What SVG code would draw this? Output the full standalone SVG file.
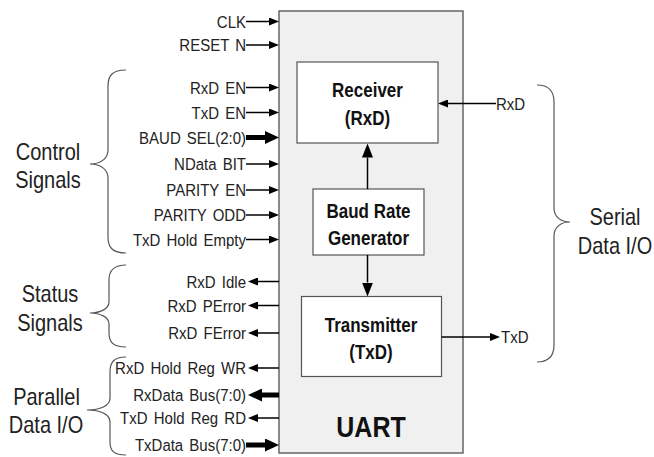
<svg xmlns="http://www.w3.org/2000/svg" width="654" height="457" viewBox="0 0 654 457">
<style>
.sig{font-family:"Liberation Sans",Arial,sans-serif;font-size:15px;fill:#222;text-anchor:end;word-spacing:2px}
.sigr{font-family:"Liberation Sans",Arial,sans-serif;font-size:15px;fill:#222;text-anchor:start}
.grp{font-family:"Liberation Sans",Arial,sans-serif;font-size:20px;fill:#222;text-anchor:middle}
.blk{font-family:"Liberation Sans",Arial,sans-serif;font-size:17px;font-weight:bold;fill:#111;text-anchor:middle}
.uart{font-family:"Liberation Sans",Arial,sans-serif;font-size:25px;font-weight:bold;fill:#111;text-anchor:middle}
.w{stroke:#000;stroke-width:1.5;fill:none}
.bus{stroke:#000;stroke-width:5;fill:none}
.brace{stroke:#555;stroke-width:1.2;fill:none}
.outer{fill:#f0f0f0;stroke:#666;stroke-width:1.5}
.inner{fill:#fff;stroke:#555;stroke-width:1.2}
.in{marker-end:url(#arr)}
.bin{marker-end:url(#busArr)}
.vin{marker-end:url(#bigArr)}
</style>
<defs>
<marker id="arr" markerUnits="userSpaceOnUse" markerWidth="10" markerHeight="8" refX="0" refY="4" orient="auto"><path d="M0,0 L10,4 L0,8 z" fill="#000"/></marker>
<marker id="busArr" markerUnits="userSpaceOnUse" markerWidth="14" markerHeight="13" refX="0" refY="6.5" orient="auto"><path d="M0,0 L14,6.5 L0,13 z" fill="#000"/></marker>
<marker id="bigArr" markerUnits="userSpaceOnUse" markerWidth="14" markerHeight="11" refX="0" refY="5.5" orient="auto"><path d="M0,0 L14,5.5 L0,11 z" fill="#000"/></marker>
</defs>

<g id="uart">
<rect class="outer" x="279" y="11" width="184" height="442"/>
<text class="uart" transform="translate(371,436.5) scale(1,1.2)">UART</text>
</g>
<g id="receiver">
<rect class="inner" x="297" y="62" width="141" height="81"/>
<text class="blk" transform="translate(367.5,97) scale(1,1.15)">Receiver</text>
<text class="blk" transform="translate(367.5,125) scale(1,1.15)">(RxD)</text>
</g>
<g id="baud">
<rect class="inner" x="313" y="189" width="111" height="66"/>
<text class="blk" transform="translate(368.5,218) scale(1,1.15)">Baud Rate</text>
<text class="blk" transform="translate(368.5,245) scale(1,1.15)">Generator</text>
</g>
<g id="transmitter">
<rect class="inner" x="301.5" y="296.5" width="140" height="80"/>
<text class="blk" transform="translate(371,331.5) scale(1,1.15)">Transmitter</text>
<text class="blk" transform="translate(371,359) scale(1,1.15)">(TxD)</text>
</g>

<g id="signal-labels">
<text class="sig" transform="translate(246,27.5) scale(1,1.12)">CLK</text>
<text class="sig" transform="translate(246,51) scale(1,1.12)">RESET N</text>
<text class="sig" transform="translate(246,93.5) scale(1,1.12)">RxD EN</text>
<text class="sig" transform="translate(246,118.5) scale(1,1.12)">TxD EN</text>
<text class="sig" transform="translate(246,143.5) scale(1,1.12)">BAUD SEL(2:0)</text>
<text class="sig" transform="translate(246,170) scale(1,1.12)">NData BIT</text>
<text class="sig" transform="translate(246,196) scale(1,1.12)">PARITY EN</text>
<text class="sig" transform="translate(246,221) scale(1,1.12)">PARITY ODD</text>
<text class="sig" transform="translate(246,245.5) scale(1,1.12)">TxD Hold Empty</text>
<text class="sig" transform="translate(246,287.5) scale(1,1.12)">RxD Idle</text>
<text class="sig" transform="translate(246,311.5) scale(1,1.12)">RxD PError</text>
<text class="sig" transform="translate(246,339) scale(1,1.12)">RxD FError</text>
<text class="sig" transform="translate(246,374) scale(1,1.12)">RxD Hold Reg WR</text>
<text class="sig" transform="translate(246,401) scale(1,1.12)">RxData Bus(7:0)</text>
<text class="sig" transform="translate(246,424) scale(1,1.12)">TxD Hold Reg RD</text>
<text class="sig" transform="translate(246,451) scale(1,1.12)">TxData Bus(7:0)</text>
<text class="sigr" transform="translate(496,110) scale(1,1.12)">RxD</text>
<text class="sigr" transform="translate(501,343) scale(1,1.12)">TxD</text>
</g>

<g id="group-labels">
<text class="grp" transform="translate(48,160) scale(1,1.17)">Control</text>
<text class="grp" transform="translate(48,188) scale(1,1.17)">Signals</text>
<text class="grp" transform="translate(50,301.5) scale(1,1.17)">Status</text>
<text class="grp" transform="translate(50,331) scale(1,1.17)">Signals</text>
<text class="grp" transform="translate(46.5,405) scale(1,1.17)">Parallel</text>
<text class="grp" transform="translate(46,433) scale(1,1.17)">Data I/O</text>
<text class="grp" transform="translate(615,225) scale(1,1.17)">Serial</text>
<text class="grp" transform="translate(615,254) scale(1,1.17)">Data I/O</text>
</g>

<g id="braces">
<path class="brace" d="M126,70 C112,70 108,76 108,86 L108,150 C108,159 100,164 90,164 C100,164 108,169 108,178 L108,237 C108,247 112,253 126,253"/>
<path class="brace" d="M126,265 C113,265 109,271 109,280 L109,302 C109,309 100,313 90,313 C100,313 109,317 109,324 L109,333 C109,342 113,347 126,347"/>
<path class="brace" d="M126,357 C114,357 110,362 110,372 L110,398 C110,406 100,410 87,410 C100,410 110,414 110,422 L110,442 C110,451 114,455 126,455"/>
<path class="brace" d="M537,85 C550,85 554,92 554,102 L554,208 C554,217 561,222 570,222 C561,222 554,227 554,236 L554,345 C554,355 550,362 537,362"/>
</g>

<g id="connectors">
<line class="w in" x1="246" y1="21.5" x2="269" y2="21.5"/>
<line class="w in" x1="246" y1="45" x2="269" y2="45"/>
<line class="w in" x1="246" y1="87.5" x2="269" y2="87.5"/>
<line class="w in" x1="246" y1="112.5" x2="269" y2="112.5"/>
<line class="bus bin" x1="246" y1="137.5" x2="265" y2="137.5"/>
<line class="w in" x1="246" y1="164" x2="269" y2="164"/>
<line class="w in" x1="246" y1="190" x2="269" y2="190"/>
<line class="w in" x1="246" y1="215" x2="269" y2="215"/>
<line class="w in" x1="246" y1="239.5" x2="269" y2="239.5"/>
<line class="w in" x1="279" y1="281.5" x2="258" y2="281.5"/>
<line class="w in" x1="279" y1="305.5" x2="258" y2="305.5"/>
<line class="w in" x1="279" y1="333" x2="258" y2="333"/>
<line class="w in" x1="279" y1="368" x2="258" y2="368"/>
<line class="bus bin" x1="279" y1="395" x2="262" y2="395"/>
<line class="w in" x1="279" y1="418" x2="258" y2="418"/>
<line class="bus bin" x1="246" y1="445" x2="265" y2="445"/>
<line class="w vin" x1="367.5" y1="189" x2="367.5" y2="157.5"/>
<line class="w vin" x1="367.5" y1="255" x2="367.5" y2="282.5"/>
<line class="w in" x1="496" y1="103.5" x2="448" y2="103.5"/>
<line class="w in" x1="441.5" y1="337" x2="490" y2="337"/>
</g>
</svg>
